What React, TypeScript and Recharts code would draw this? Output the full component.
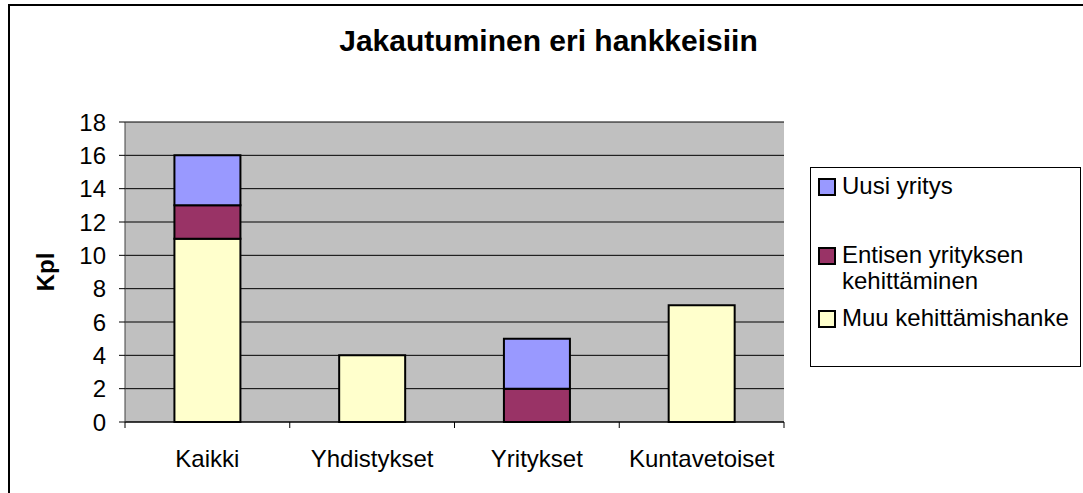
import React from "react";
import { BarChart, Bar, XAxis, YAxis, CartesianGrid } from "recharts";

const categories = ["Kaikki", "Yhdistykset", "Yritykset", "Kuntavetoiset"];
const muuKehittamishanke = [11, 4, null, 7];
const entisenYrityksen = [2, null, 2, null];
const uusiYritys = [3, null, 3, null];
const yTicks = [0, 2, 4, 6, 8, 10, 12, 14, 16, 18];

const series = [
  { key: "muu", name: "Muu kehittämishanke", color: "#FFFFCC" },
  { key: "entisen", name: "Entisen yrityksen kehittäminen", color: "#993366" },
  { key: "uusi", name: "Uusi yritys", color: "#9999FF" },
];

const data = categories.map((name, i) => ({
  name,
  muu: muuKehittamishanke[i],
  entisen: entisenYrityksen[i],
  uusi: uusiYritys[i],
}));

const FONT = "'Liberation Sans', Arial, sans-serif";

function CategoryTick(props: any) {
  const { x, y, payload, index, visibleTicksCount } = props;
  const half = payload.offset;
  const last = index === visibleTicksCount - 1;
  return (
    <g>
      <line x1={x - half} x2={x - half} y1={y} y2={y + 6} stroke="#000" />
      {last && <line x1={x + half} x2={x + half} y1={y} y2={y + 6} stroke="#000" />}
      <text x={x} y={y + 28} dy="0.71em" textAnchor="middle" fontSize={24} fill="#000" fontFamily={FONT}>
        {payload.value}
      </text>
    </g>
  );
}

function LegendBox() {
  const order = [...series].reverse();
  const tops = [5, 74, 137];
  return (
    <div
      style={{
        position: "absolute",
        left: 810,
        top: 167,
        width: 269,
        height: 198,
        border: "1.5px solid #000",
        background: "#fff",
        fontFamily: FONT,
        fontSize: 24,
        lineHeight: "26px",
      }}
    >
      {order.map((s, i) => (
        <div key={s.key} style={{ position: "absolute", left: 7, top: tops[i], display: "flex" }}>
          <div
            style={{
              width: 14,
              height: 14,
              marginTop: 5,
              marginRight: 6,
              background: s.color,
              border: "2px solid #000",
              flexShrink: 0,
            }}
          />
          <div style={{ width: 238 }}>{s.name}</div>
        </div>
      ))}
    </div>
  );
}

export default function App() {
  return (
    <div style={{ position: "fixed", left: 0, top: 0, width: 1083, height: 493, overflow: "hidden", background: "#fff" }}>
      <div
        style={{
          position: "absolute",
          left: 8,
          top: 4,
          width: 1200,
          height: 600,
          borderLeft: "2px solid #000",
          borderTop: "2px solid #000",
        }}
      />
      <div
        style={{
          position: "absolute",
          left: 0,
          width: 1097,
          top: 24,
          textAlign: "center",
          fontFamily: FONT,
          fontWeight: "bold",
          fontSize: 30,
          lineHeight: "34px",
        }}
      >
        Jakautuminen eri hankkeisiin
      </div>
      <div style={{ position: "absolute", left: 0, top: 0 }}>
        <BarChart
          width={1083}
          height={493}
          data={data}
          margin={{ top: 122, right: 299, bottom: 21, left: 0 }}
          barCategoryGap="30%"
        >
          <CartesianGrid vertical={false} fill="#C0C0C0" stroke="#000" strokeOpacity={1} />
          <XAxis xAxisId="top" orientation="top" dataKey="name" height={0} tick={false} tickLine={false} axisLine={{ stroke: "#808080", strokeWidth: 2 }} />
          <YAxis yAxisId="right" orientation="right" width={0} domain={[0, 18]} tick={false} tickLine={false} axisLine={{ stroke: "#808080", strokeWidth: 2 }} />
          <XAxis
            dataKey="name"
            height={50}
            tickSize={0}
            tickMargin={0}
            tickLine={false}
            axisLine={{ stroke: "#000" }}
            tick={<CategoryTick />}
            interval={0}
          />
          <YAxis
            width={125}
            domain={[0, 18]}
            ticks={yTicks}
            interval={0}
            tickSize={6}
            tickMargin={13}
            axisLine={{ stroke: "#404040" }}
            tickLine={{ stroke: "#000" }}
            tick={{ fill: "#000", fontSize: 24, fontFamily: FONT }}
            label={{
              content: () => (
                <text
                  x={45}
                  y={272}
                  transform="rotate(-90 45 272)"
                  textAnchor="middle"
                  dominantBaseline="central"
                  fontSize={24}
                  fontWeight="bold"
                  fontFamily={FONT}
                  fill="#000"
                >
                  Kpl
                </text>
              ),
            }}
          />
          {series.map((s) => (
            <Bar
              key={s.key}
              dataKey={s.key}
              name={s.name}
              stackId="a"
              fill={s.color}
              stroke="#000"
              strokeWidth={2}
              isAnimationActive={false}
            />
          ))}
        </BarChart>
      </div>
      <LegendBox />
    </div>
  );
}
